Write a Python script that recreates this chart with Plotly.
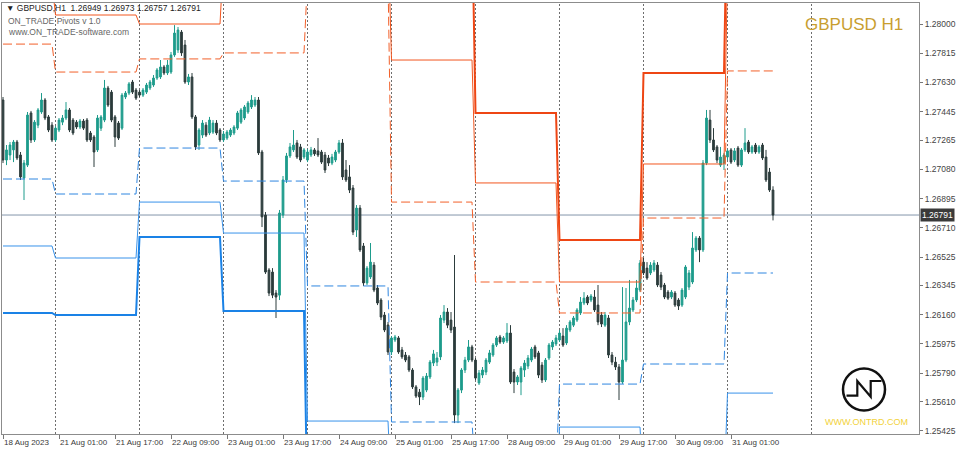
import plotly.graph_objects as go

# ---------------- data ----------------
symbol = "GBPUSD"
timeframe = "H1"
day_counts = [15, 24, 24, 24, 24, 24, 24, 24, 24, 14]   # H1 bars per trading day (18,21,22,23,24,25,28,29,30,31 Aug)
tick_bars = [0, 16, 32, 48, 64, 80, 96, 112, 128, 144, 160, 176, 192, 208]
tick_labels = ["18 Aug 2023", "21 Aug 01:00", "21 Aug 17:00", "22 Aug 09:00", "23 Aug 01:00",
               "23 Aug 17:00", "24 Aug 09:00", "25 Aug 01:00", "25 Aug 17:00", "28 Aug 09:00",
               "29 Aug 01:00", "29 Aug 17:00", "30 Aug 09:00", "31 Aug 01:00"]
price_ticks = [1.28000, 1.27815, 1.27630, 1.27445, 1.27265, 1.27080, 1.26895, 1.26710,
               1.26525, 1.26345, 1.26160, 1.25975, 1.25790, 1.25610, 1.25425]

open_ = [1.27519,1.27139,1.27171,1.27203,1.27253,1.27171,1.27025,1.27107,1.27437,1.27266,
1.27360,1.27443,1.27519,1.27412,1.27360,1.27266,1.27329,1.27379,1.27405,1.27456,
1.27392,1.27379,1.27348,1.27386,1.27392,1.27310,1.27285,1.27203,1.27341,1.27392,
1.27595,1.27569,1.27412,1.27373,1.27341,1.27538,1.27563,1.27633,1.27582,1.27569,
1.27550,1.27569,1.27595,1.27614,1.27658,1.27665,1.27728,1.27690,1.27696,1.27804,
1.27836,1.27949,1.27867,1.27633,1.27665,1.27412,1.27234,1.27297,1.27360,1.27310,
1.27316,1.27373,1.27329,1.27266,1.27278,1.27297,1.27310,1.27341,1.27379,1.27405,
1.27443,1.27475,1.27487,1.27519,1.27190,1.26791,1.26443,1.26430,1.26297,1.26284,
1.26791,1.27013,1.27165,1.27203,1.27247,1.27222,1.27158,1.27139,1.27171,1.27203,
1.27197,1.27190,1.27171,1.27152,1.27120,1.27139,1.27190,1.27247,1.27076,1.27032,
1.26962,1.26696,1.26835,1.26595,1.26361,1.26399,1.26474,1.26329,1.26253,1.26158,
1.26095,1.25924,1.26000,1.26013,1.25937,1.25905,1.25893,1.25810,1.25703,1.25670,
1.25639,1.25683,1.25766,1.25854,1.25860,1.25893,1.26126,1.26177,1.26126,1.26082,
1.25525,1.25683,1.25810,1.25873,1.25956,1.25873,1.25728,1.25778,1.25797,1.25860,
1.25905,1.25968,1.26019,1.25987,1.25994,1.26044,1.25797,1.25734,1.25734,1.25810,
1.25835,1.25873,1.25956,1.25918,1.25841,1.25747,1.25886,1.25956,1.25975,1.26000,
1.26025,1.25981,1.26063,1.26094,1.26126,1.26171,1.26234,1.26272,1.26253,1.26272,
1.26221,1.26158,1.26094,1.26139,1.25905,1.25860,1.25829,1.25734,1.25873,1.26114,
1.26190,1.26253,1.26316,1.26493,1.26455,1.26424,1.26443,1.26474,1.26411,1.26348,
1.26303,1.26272,1.26297,1.26253,1.26221,1.26272,1.26335,1.26367,1.26570,1.26645,
1.26570,1.27120,1.27392,1.27266,1.27222,1.27107,1.27120,1.27158,1.27203,1.27139,
1.27215,1.27107,1.27203,1.27253,1.27190,1.27234,1.27190,1.27234,1.27158,1.27063,
1.26949]

high = [1.27538,1.27234,1.27253,1.27266,1.27266,1.27190,1.27139,1.27443,1.27450,1.27392,
1.27468,1.27563,1.27531,1.27424,1.27379,1.27354,1.27405,1.27424,1.27506,1.27468,
1.27405,1.27392,1.27399,1.27399,1.27405,1.27323,1.27297,1.27424,1.27424,1.27646,
1.27608,1.27582,1.27424,1.27386,1.27563,1.27576,1.27633,1.27646,1.27595,1.27582,
1.27595,1.27627,1.27646,1.27677,1.27721,1.27772,1.27740,1.27772,1.27823,1.27993,
1.27981,1.27962,1.27899,1.27684,1.27690,1.27424,1.27341,1.27392,1.27379,1.27412,
1.27392,1.27392,1.27341,1.27323,1.27329,1.27341,1.27360,1.27450,1.27468,1.27487,
1.27513,1.27550,1.27538,1.27538,1.27203,1.26810,1.26455,1.26455,1.26316,1.26823,
1.27038,1.27184,1.27247,1.27329,1.27266,1.27241,1.27215,1.27209,1.27222,1.27215,
1.27278,1.27203,1.27190,1.27171,1.27178,1.27203,1.27266,1.27272,1.27139,1.27107,
1.26981,1.26854,1.26854,1.26614,1.26468,1.26614,1.26493,1.26348,1.26265,1.26177,
1.26114,1.26025,1.26032,1.26025,1.25956,1.25924,1.25905,1.25822,1.25715,1.25690,
1.25772,1.25791,1.25873,1.25937,1.25924,1.26158,1.26221,1.26202,1.26177,1.26538,
1.25696,1.25822,1.25893,1.26000,1.25969,1.25886,1.25810,1.25829,1.25886,1.25937,
1.25981,1.26025,1.26032,1.26025,1.26107,1.26094,1.25816,1.25778,1.25835,1.25873,
1.25905,1.25956,1.25969,1.25931,1.25860,1.25886,1.25981,1.26000,1.26032,1.26063,
1.26075,1.26094,1.26126,1.26152,1.26202,1.26272,1.26303,1.26284,1.26291,1.26316,
1.26348,1.26177,1.26177,1.26158,1.25924,1.25893,1.25848,1.26335,1.26329,1.26380,
1.26272,1.26380,1.26506,1.26519,1.26493,1.26493,1.26506,1.26493,1.26430,1.26361,
1.26316,1.26316,1.26310,1.26265,1.26329,1.26474,1.26443,1.26683,1.26658,1.26658,
1.27139,1.27456,1.27456,1.27341,1.27234,1.27222,1.27184,1.27209,1.27215,1.27215,
1.27228,1.27215,1.27341,1.27266,1.27234,1.27247,1.27234,1.27247,1.27203,1.27089,
1.26973]

low = [1.27120,1.27107,1.27139,1.27126,1.27139,1.27013,1.26886,1.27095,1.27247,1.27253,
1.27341,1.27431,1.27392,1.27316,1.27253,1.27253,1.27316,1.27360,1.27392,1.27316,
1.27297,1.27335,1.27335,1.27329,1.27253,1.27253,1.27095,1.27190,1.27323,1.27379,
1.27475,1.27379,1.27222,1.27266,1.27329,1.27525,1.27550,1.27557,1.27519,1.27538,
1.27538,1.27557,1.27582,1.27602,1.27646,1.27652,1.27677,1.27677,1.27684,1.27792,
1.27817,1.27798,1.27621,1.27614,1.27399,1.27203,1.27203,1.27278,1.27285,1.27297,
1.27304,1.27297,1.27253,1.27253,1.27266,1.27285,1.27297,1.27329,1.27367,1.27392,
1.27431,1.27462,1.27475,1.27171,1.26715,1.26418,1.26278,1.26265,1.26139,1.26253,
1.26772,1.26994,1.27152,1.27190,1.27146,1.27126,1.27146,1.27126,1.27158,1.27165,
1.27158,1.27114,1.27057,1.27101,1.27107,1.27126,1.27178,1.27013,1.27000,1.26930,
1.26664,1.26652,1.26557,1.26342,1.26348,1.26386,1.26303,1.26221,1.26126,1.26050,
1.25905,1.25905,1.25987,1.25912,1.25880,1.25860,1.25797,1.25690,1.25633,1.25588,
1.25620,1.25670,1.25753,1.25835,1.25835,1.25873,1.26107,1.26075,1.26044,1.25474,
1.25474,1.25664,1.25791,1.25860,1.25860,1.25747,1.25715,1.25759,1.25778,1.25848,
1.25893,1.25956,1.25975,1.25975,1.25981,1.25722,1.25664,1.25715,1.25651,1.25766,
1.25816,1.25860,1.25880,1.25759,1.25728,1.25734,1.25873,1.25937,1.25962,1.25987,
1.25956,1.25968,1.26050,1.26082,1.26114,1.26158,1.26221,1.26221,1.26240,1.26177,
1.26094,1.26082,1.26082,1.25886,1.25841,1.25810,1.25620,1.25722,1.25860,1.26094,
1.26177,1.26240,1.26303,1.26411,1.26380,1.26411,1.26430,1.26335,1.26316,1.26259,
1.26253,1.26259,1.26209,1.26190,1.26209,1.26259,1.26316,1.26354,1.26557,1.26493,
1.26557,1.27107,1.27247,1.27190,1.27120,1.27095,1.27076,1.27139,1.27114,1.27126,
1.27095,1.27095,1.27190,1.27178,1.27178,1.27178,1.27178,1.27139,1.27000,1.26937,
1.26757]

close = [1.27139,1.27203,1.27234,1.27253,1.27152,1.27032,1.27120,1.27424,1.27266,1.27379,
1.27456,1.27519,1.27405,1.27329,1.27266,1.27341,1.27392,1.27405,1.27456,1.27329,
1.27310,1.27348,1.27386,1.27341,1.27266,1.27266,1.27190,1.27405,1.27412,1.27595,
1.27487,1.27392,1.27285,1.27278,1.27550,1.27563,1.27621,1.27569,1.27531,1.27550,
1.27582,1.27614,1.27633,1.27658,1.27709,1.27728,1.27690,1.27740,1.27804,1.27943,
1.27962,1.27817,1.27633,1.27665,1.27412,1.27222,1.27329,1.27373,1.27297,1.27392,
1.27373,1.27310,1.27266,1.27304,1.27316,1.27329,1.27348,1.27437,1.27456,1.27475,
1.27500,1.27519,1.27519,1.27184,1.26779,1.26430,1.26297,1.26284,1.26272,1.26804,
1.27013,1.27165,1.27222,1.27234,1.27158,1.27139,1.27203,1.27190,1.27203,1.27178,
1.27171,1.27126,1.27076,1.27120,1.27158,1.27190,1.27247,1.27032,1.27013,1.26949,
1.26683,1.26835,1.26570,1.26361,1.26455,1.26493,1.26316,1.26234,1.26145,1.26063,
1.25924,1.26013,1.26019,1.25924,1.25893,1.25873,1.25810,1.25703,1.25645,1.25639,
1.25759,1.25772,1.25860,1.25912,1.25886,1.26139,1.26177,1.26094,1.26063,1.25525,
1.25683,1.25810,1.25873,1.25956,1.25873,1.25759,1.25791,1.25810,1.25873,1.25918,
1.25968,1.26013,1.25987,1.26013,1.26044,1.25734,1.25734,1.25766,1.25822,1.25854,
1.25886,1.25943,1.25893,1.25778,1.25747,1.25873,1.25968,1.25987,1.26013,1.26044,
1.25968,1.26075,1.26114,1.26139,1.26190,1.26240,1.26265,1.26234,1.26278,1.26190,
1.26114,1.26101,1.26158,1.25905,1.25860,1.25829,1.25734,1.25873,1.26114,1.26202,
1.26253,1.26329,1.26487,1.26424,1.26392,1.26474,1.26487,1.26348,1.26335,1.26272,
1.26265,1.26303,1.26221,1.26215,1.26316,1.26462,1.26424,1.26582,1.26645,1.26570,
1.27120,1.27405,1.27266,1.27203,1.27139,1.27158,1.27171,1.27197,1.27126,1.27197,
1.27107,1.27203,1.27247,1.27190,1.27222,1.27190,1.27222,1.27152,1.27013,1.26949,
1.26791]

# daily pivot levels (one value per trading day)
r3 = [1.28520, 1.28450, 1.28400, 1.28800, 1.29000, 1.28700, 1.27437, 1.26633, 1.27690, 1.28900]
r2 = [1.28260, 1.28057, 1.28000, 1.28420, 1.28560, 1.27772, 1.26994, 1.26367, 1.27114, 1.28350]
r1 = [1.27873, 1.27696, 1.27779, 1.27817, 1.28290, 1.26873, 1.26367, 1.26171, 1.26772, 1.27703]
s1 = [1.27019, 1.26924, 1.27215, 1.27006, 1.26342, 1.25481, 1.25150, 1.25721, 1.25848, 1.26424]
s2 = [1.26595, 1.26519, 1.26873, 1.26677, 1.25487, 1.25000, 1.24850, 1.25449, 1.25050, 1.25664]
s3 = [1.26171, 1.26158, 1.26652, 1.26183, 1.24900, 1.24500, 1.24400, 1.24800, 1.24700, 1.24900]

# ---------------- layout helpers ----------------
W, H = 960, 452
ML, MR, MT, MB = 2, 41, 3, 18
PW, PH = W - ML - MR, H - MT - MB
PX_PER_BAR = 3.5
X0 = -1.0 / PX_PER_BAR
X1 = X0 + PW / PX_PER_BAR
Y_TOP, Y_BOT = 1.28133, 1.25405


def pxx(x):
    return (x - ML) / PW


def pxy(y):
    return (H - MB - y) / PH


bars = list(range(len(close)))


def per_bar(levels):
    out = []
    for lv, n in zip(levels, day_counts):
        out += [lv] * n
    return out


day_starts = []
acc = 0
for n in day_counts:
    acc += n
    day_starts.append(acc)
day_starts = day_starts[:-1] + [day_starts[-1] + 10]

BULL = "#1E9C8C"
BEAR = "#2C3C3C"

fig = go.Figure()

fig.add_trace(go.Candlestick(
    x=bars, open=open_, high=high, low=low, close=close,
    increasing=dict(line=dict(color=BULL, width=1), fillcolor=BULL),
    decreasing=dict(line=dict(color=BEAR, width=1), fillcolor=BEAR),
    whiskerwidth=0, hoverinfo="skip", showlegend=False,
))

pivot_styles = [
    (r3, "#EE4614", 2, "solid"),
    (r2, "#F2561F", 1, "solid"),
    (r1, "#F2602A", 1, "9px,4px"),
    (s1, "#2F86E0", 1, "9px,4px"),
    (s2, "#3892EA", 1, "solid"),
    (s3, "#1A82E6", 2, "solid"),
]
for levels, col, wdt, dash in pivot_styles:
    fig.add_trace(go.Scatter(
        x=bars, y=per_bar(levels), mode="lines",
        line=dict(color=col, width=wdt, dash=dash),
        hoverinfo="skip", showlegend=False,
    ))

shapes = []
for ds in day_starts:
    shapes.append(dict(type="line", xref="x", yref="paper", x0=ds, x1=ds, y0=0, y1=1,
                       line=dict(color="#6e6e6e", width=1, dash="2px,2px"), layer="below"))
shapes.append(dict(type="line", xref="paper", yref="y", x0=0, x1=1, y0=close[-1], y1=close[-1],
                   line=dict(color="#8396AA", width=1), layer="below"))

# logo
shapes.append(dict(type="circle", xref="paper", yref="paper",
                   x0=pxx(843), x1=pxx(885), y0=pxy(410.5), y1=pxy(368.5),
                   line=dict(color="#111111", width=2.5)))
npts = [(846.5, 395.7), (857.3, 395.7), (857.3, 381), (870.7, 396.7), (870.7, 381), (881.5, 381)]
path = "M " + " L ".join(f"{pxx(a):.5f},{pxy(b):.5f}" for a, b in npts)
shapes.append(dict(type="path", xref="paper", yref="paper", path=path,
                   line=dict(color="#111111", width=2.2)))

FONT = "Liberation Sans, Arial, sans-serif"
annotations = [
    dict(xref="paper", yref="paper", x=pxx(4), y=pxy(8.5), xanchor="left", yanchor="middle",
         text=f"▼ {symbol},{timeframe}  {open_[-1]:.5f} {high[-1]:.5f} {low[-1]:.5f} {close[-1]:.5f}",
         showarrow=False, font=dict(family=FONT, size=8.5, color="#222222")),
    dict(xref="paper", yref="paper", x=pxx(6), y=pxy(20.7), xanchor="left", yanchor="middle",
         text="ON_TRADE Pivots v 1.0", showarrow=False,
         font=dict(family=FONT, size=8.5, color="#666666")),
    dict(xref="paper", yref="paper", x=pxx(6), y=pxy(32.3), xanchor="left", yanchor="middle",
         text="www.ON_TRADE-software.com", showarrow=False,
         font=dict(family=FONT, size=8.5, color="#666666")),
    dict(xref="paper", yref="paper", x=pxx(905), y=pxy(25), xanchor="right", yanchor="middle",
         text=f"{symbol} {timeframe}", showarrow=False,
         font=dict(family=FONT, size=17, color="#C89E30")),
    dict(xref="paper", yref="paper", x=pxx(823), y=pxy(422), xanchor="left", yanchor="middle",
         text="WWW.ONTRD.COM", showarrow=False,
         font=dict(family=FONT, size=9, color="#F2D23A")),
    dict(xref="paper", yref="y", x=1, y=close[-1], xanchor="left", yanchor="middle", xshift=1,
         text=f"{close[-1]:.5f}", showarrow=False, bgcolor="#3A3A3A", borderpad=1,
         font=dict(family=FONT, size=8.5, color="#FFFFFF")),
]

fig.update_layout(
    width=W, height=H,
    margin=dict(l=ML, r=MR, t=MT, b=MB, pad=0),
    paper_bgcolor="white", plot_bgcolor="white",
    showlegend=False,
    shapes=shapes, annotations=annotations,
    xaxis=dict(range=[X0, X1], rangeslider=dict(visible=False), showgrid=False, zeroline=False,
               automargin=False, tickangle=0,
               tickmode="array", tickvals=tick_bars, ticktext=tick_labels,
               ticks="outside", ticklen=4, tickcolor="#777777",
               ticklabelposition="outside right",
               tickfont=dict(family=FONT, size=8, color="#3a3a3a"),
               showline=True, linecolor="#8C8C8C", linewidth=1, mirror=True),
    yaxis=dict(range=[Y_BOT, Y_TOP], side="right", showgrid=False, zeroline=False,
               automargin=False,
               tickmode="array", tickvals=price_ticks, ticktext=[f"{v:.5f}" for v in price_ticks],
               ticks="outside", ticklen=3, tickcolor="#777777",
               tickfont=dict(family=FONT, size=8.5, color="#444444"),
               showline=True, linecolor="#8C8C8C", linewidth=1, mirror=True),
)

fig.write_html("out.html", config={"displayModeBar": False},
               post_script="document.body.style.margin='0';document.body.style.overflow='hidden';")
